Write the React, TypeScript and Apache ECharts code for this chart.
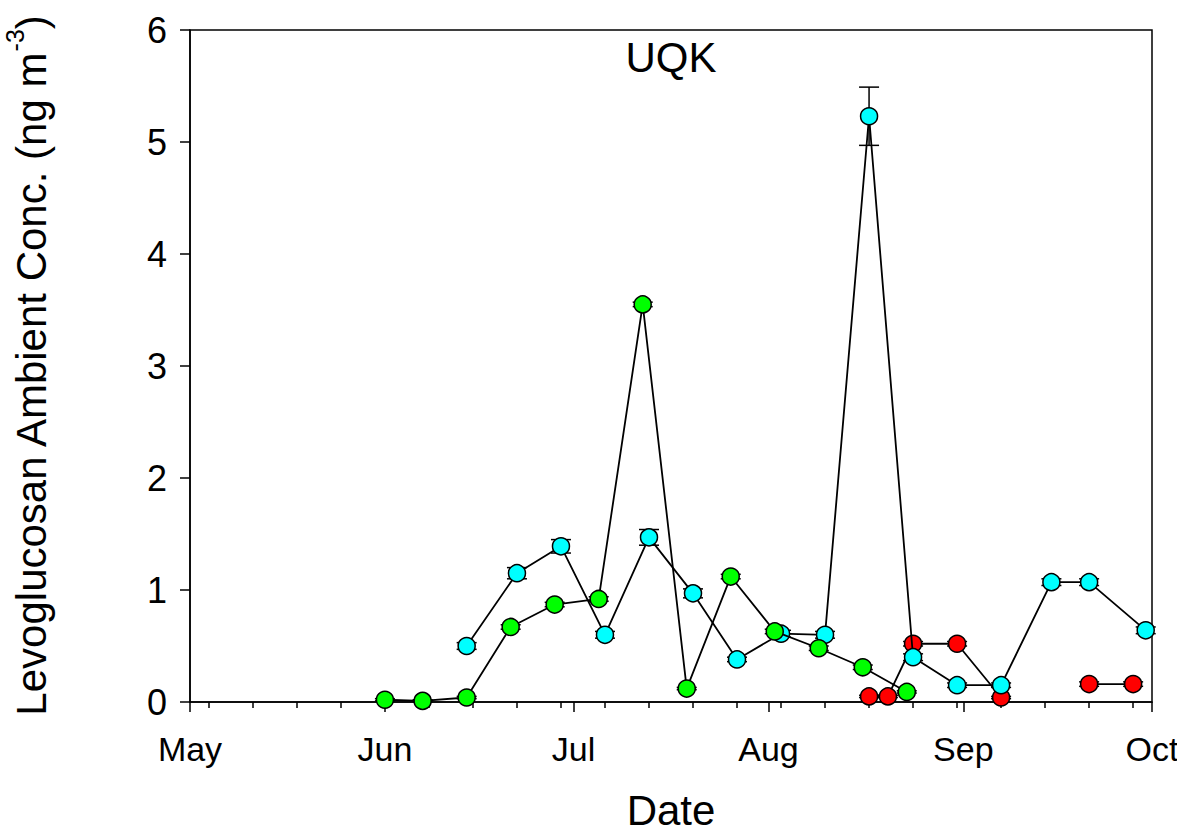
import React, { useEffect, useRef } from "react";
import * as echarts from "echarts";

// ---- Data ----
const monthTickDates = ["2010-05-01", "2010-06-01", "2010-07-01", "2010-08-01", "2010-09-01", "2010-10-01"];
const monthLabels = ["May", "Jun", "Jul", "Aug", "Sep", "Oct"];
const weekTickDates = [
  "2010-05-04", "2010-05-11", "2010-05-18", "2010-05-25", "2010-06-01", "2010-06-08", "2010-06-15",
  "2010-06-22", "2010-06-29", "2010-07-06", "2010-07-13", "2010-07-20", "2010-07-27", "2010-08-03",
  "2010-08-10", "2010-08-17", "2010-08-24", "2010-08-31", "2010-09-07", "2010-09-14", "2010-09-21",
  "2010-09-28",
];
const yTicks = [0, 1, 2, 3, 4, 5, 6];

const greenDates = [
  "2010-06-01", "2010-06-07", "2010-06-14", "2010-06-21", "2010-06-28", "2010-07-05", "2010-07-12",
  "2010-07-19", "2010-07-26", "2010-08-02", "2010-08-09", "2010-08-16", "2010-08-23",
];
const greenValues = [0.02, 0.01, 0.04, 0.67, 0.87, 0.92, 3.55, 0.12, 1.12, 0.63, 0.48, 0.31, 0.09];
const greenErrors = [0.01, 0.01, 0.01, 0.02, 0.02, 0.02, 0.02, 0.01, 0.02, 0.02, 0.02, 0.02, 0.01];

const cyanDates = [
  "2010-06-14", "2010-06-22", "2010-06-29", "2010-07-06", "2010-07-13", "2010-07-20", "2010-07-27",
  "2010-08-03", "2010-08-10", "2010-08-17", "2010-08-24", "2010-08-31", "2010-09-07", "2010-09-15",
  "2010-09-21", "2010-09-30",
];
const cyanValues = [0.5, 1.15, 1.39, 0.6, 1.47, 0.97, 0.38, 0.61, 0.6, 5.23, 0.4, 0.15, 0.15, 1.07, 1.07, 0.64];
const cyanErrors = [0.03, 0.05, 0.06, 0.03, 0.07, 0.04, 0.02, 0.03, 0.03, 0.26, 0.03, 0.02, 0.02, 0.03, 0.03, 0.03];

const redDates = [
  "2010-08-17", "2010-08-20", "2010-08-24", "2010-08-31", "2010-09-07", "2010-09-14", "2010-09-21", "2010-09-28",
];
const redValues: (number | null)[] = [0.05, 0.05, 0.52, 0.52, 0.04, null, 0.16, 0.16];
const redErrors = [0.01, 0.01, 0.02, 0.02, 0.01, 0, 0.02, 0.02];

const FONT = "'Liberation Sans', Arial, sans-serif";
const ts = (d: string) => new Date(d + "T00:00:00Z").getTime();

function lineData(dates: string[], values: (number | null)[]) {
  return dates.map((d, i) => [ts(d), values[i]]);
}
function errData(dates: string[], values: (number | null)[], errs: number[]) {
  const out: number[][] = [];
  dates.forEach((d, i) => {
    const v = values[i];
    if (v !== null && v !== undefined) out.push([ts(d), v, errs[i]]);
  });
  return out;
}

function errorSeries(data: number[][], z: number) {
  return {
    type: "custom",
    z,
    silent: true,
    data,
    renderItem: (params: any, api: any) => {
      const x = api.value(0);
      const y = api.value(1);
      const e = api.value(2);
      const top = api.coord([x, y + e]);
      const bot = api.coord([x, y - e]);
      const half = 10;
      const st = { stroke: "#000", lineWidth: 1.5 };
      return {
        type: "group",
        children: [
          { type: "line", shape: { x1: top[0], y1: top[1], x2: bot[0], y2: bot[1] }, style: st },
          { type: "line", shape: { x1: top[0] - half, y1: top[1], x2: top[0] + half, y2: top[1] }, style: st },
          { type: "line", shape: { x1: bot[0] - half, y1: bot[1], x2: bot[0] + half, y2: bot[1] }, style: st },
        ],
      };
    },
  };
}

function lineSeries(name: string, data: any[], color: string, z: number) {
  return {
    name,
    type: "line",
    z,
    data,
    connectNulls: false,
    symbol: "circle",
    symbolSize: 17,
    showAllSymbol: true,
    lineStyle: { color: "#000", width: 1.8 },
    itemStyle: { color, borderColor: "#000", borderWidth: 1.5 },
    emphasis: { disabled: true },
  };
}

export default function App() {
  const ref = useRef<HTMLDivElement>(null);
  useEffect(() => {
    if (!ref.current) return;
    const chart = echarts.init(ref.current, null, { renderer: "svg" });
    const xMin = ts(monthTickDates[0]);
    const xMax = ts(monthTickDates[monthTickDates.length - 1]);
    const monthTicks = monthTickDates.map(ts);
    const weekTicks = weekTickDates.map(ts);
    chart.setOption({
      animation: false,
      backgroundColor: "#fff",
      grid: {
        left: 190,
        right: 25,
        top: 30,
        bottom: 133,
        outerBoundsMode: "none",
        containLabel: false,
        show: true,
        borderColor: "#000",
        borderWidth: 1.5,
        backgroundColor: "transparent",
      },
      graphic: [
        {
          type: "text",
          x: 671,
          y: 57,
          style: {
            text: "UQK",
            font: `42px ${FONT}`,
            fill: "#000",
            textAlign: "center",
            textVerticalAlign: "middle",
          },
        },
      ],
      xAxis: [
        {
          type: "value",
          min: xMin,
          max: xMax,
          position: "bottom",
          axisLine: { show: true, lineStyle: { color: "#000", width: 1.5 } },
          axisTick: { show: true, customValues: monthTicks, length: 10, lineStyle: { color: "#000", width: 1.5 } },
          axisLabel: {
            show: true,
            customValues: monthTicks,
            margin: 30,
            fontSize: 34,
            fontFamily: FONT,
            color: "#000",
            formatter: (v: number) => {
              const i = monthTicks.indexOf(v);
              return i >= 0 ? monthLabels[i] : "";
            },
          },
          splitLine: { show: false },
          name: "Date",
          nameLocation: "middle",
          nameGap: 87,
          nameTextStyle: { fontSize: 42, lineHeight: 42, fontFamily: FONT, color: "#000" },
        },
        {
          type: "value",
          min: xMin,
          max: xMax,
          position: "bottom",
          axisLine: { show: false },
          axisTick: { show: true, customValues: weekTicks, length: 6, lineStyle: { color: "#000", width: 1.5 } },
          axisLabel: { show: false },
          splitLine: { show: false },
        },
      ],
      yAxis: {
        type: "value",
        min: 0,
        max: 6,
        interval: 1,
        axisLine: { show: true, lineStyle: { color: "#000", width: 1.5 } },
        axisTick: { show: true, customValues: yTicks, length: 10, lineStyle: { color: "#000", width: 1.5 } },
        axisLabel: { fontSize: 36, fontFamily: FONT, color: "#000", margin: 23 },
        splitLine: { show: false },
        name: "{a|Levoglucosan Ambient Conc. (ng m}{b|-3}{a|)}",
        nameLocation: "middle",
        nameGap: 138,
        nameTextStyle: {
          rich: {
            a: { fontSize: 42, fontFamily: FONT, color: "#000", lineHeight: 50, verticalAlign: "bottom" },
            b: { fontSize: 25, fontFamily: FONT, color: "#000", lineHeight: 50, verticalAlign: "top" },
          },
        },
      },
      series: [
        errorSeries(errData(redDates, redValues, redErrors), 2),
        errorSeries(errData(cyanDates, cyanValues, cyanErrors), 2),
        errorSeries(errData(greenDates, greenValues, greenErrors), 2),
        lineSeries("red", lineData(redDates, redValues), "#ff0000", 3),
        lineSeries("cyan", lineData(cyanDates, cyanValues), "#00ffff", 4),
        lineSeries("green", lineData(greenDates, greenValues), "#00ff00", 5),
      ],
    });
    return () => chart.dispose();
  }, []);
  return (
    <div
      ref={ref}
      style={{ position: "absolute", left: 0, top: 0, width: 1177, height: 835 }}
    />
  );
}
